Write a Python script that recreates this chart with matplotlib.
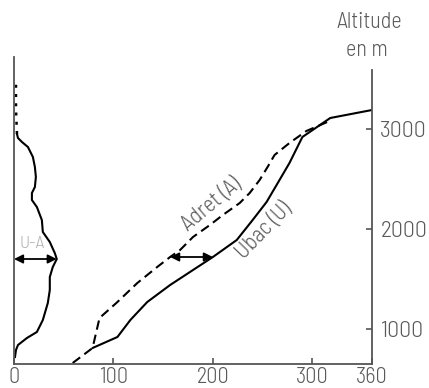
import matplotlib
matplotlib.use("Agg")
import matplotlib.pyplot as plt

plt.rcParams['font.family'] = ['Barlow Semi Condensed', 'DejaVu Sans']
plt.rcParams['font.weight'] = 300

# ---- data ----
ubac_x = [79, 104, 117, 134, 157, 200, 224, 240, 254, 267, 277, 290, 318, 360]
ubac_y = [810, 920, 1090, 1270, 1440, 1720, 1890, 2090, 2270, 2490, 2660, 2920, 3110, 3190]

adret_x = [59, 79, 86, 104, 124, 144, 157, 167, 180, 197, 210, 227, 237, 247, 255, 262, 277, 294, 315, 318]
adret_y = [660, 810, 1110, 1270, 1460, 1620, 1720, 1790, 1920, 2040, 2140, 2260, 2360, 2490, 2620, 2740, 2860, 2980, 3070, 3110]

ua_x = [1, 2, 4, 13, 23, 29, 34, 36, 36, 39, 43, 41, 36, 29, 28, 23, 18, 18, 21, 22, 21, 19, 14, 8, 4, 3]
ua_y = [720, 790, 840, 910, 970, 1090, 1260, 1390, 1520, 1620, 1700, 1760, 1870, 1970, 2090, 2220, 2290, 2360, 2420, 2520, 2620, 2720, 2820, 2870, 2910, 2950]
ua_top_x = [3, 2, 2]
ua_top_y = [2950, 3200, 3460]

xticks = [0, 100, 200, 300, 360]
xtick_labels = ['0', '100', '200', '300', '360']
yticks = [1000, 2000, 3000]
ytick_labels = ['1000', '2000', '3000']

gap_alt_left = 1700
gap_alt_right = 1720
gap_left = (0, 43)
gap_right = (157, 200)

# ---- figure ----
fig = plt.figure(figsize=(4.29, 3.88), dpi=100)
ax = fig.add_axes([14/429, 24/388, 358/429, 364/388])
ax.set_xlim(0, 360)
ax.set_ylim(650, 4290)

spine_col = '#555555'
text_col = '#5a5a5a'

ax.plot(ubac_x, ubac_y, color='black', lw=1.5, solid_capstyle='round')
ax.plot(adret_x, adret_y, color='black', lw=1.5, linestyle=(0, (4.5, 2.5)))
ax.plot(ua_x, ua_y, color='black', lw=1.5)
ax.plot(ua_top_x, ua_top_y, color='black', lw=1.8, linestyle=(0, (1.2, 2.5)))

for (x0, x1), yy in [(gap_left, gap_alt_left), (gap_right, gap_alt_right)]:
    ax.annotate('', xy=(x1, yy), xytext=(x0, yy),
                arrowprops=dict(arrowstyle='<|-|>', color='black', lw=1.3,
                                mutation_scale=13, shrinkA=0, shrinkB=0))

ax.text(18, 1850, 'U-A', color='#b0b0b0', fontsize=13, ha='center', va='center')
ax.text(199, 2245, 'Adret (A)', color=text_col, fontsize=16, rotation=40,
        ha='center', va='center')
ax.text(252, 1985, 'Ubac (U)', color=text_col, fontsize=16, rotation=46,
        ha='center', va='center')

fig.text(369/429, 1 - 22/388, 'Altitude', color=text_col, fontsize=16, ha='center', va='center')
fig.text(367/429, 1 - 50/388, 'en m', color=text_col, fontsize=16, ha='center', va='center')

ax.spines['top'].set_visible(False)
for s in ['left', 'right', 'bottom']:
    ax.spines[s].set_color(spine_col)
    ax.spines[s].set_linewidth(1.3)
ax.spines['left'].set_bounds(650, 3720)
ax.spines['right'].set_bounds(650, 3590)

ax.set_xticks(xticks)
ax.set_xticklabels(xtick_labels)
ax.set_yticks(yticks)
ax.set_yticklabels(ytick_labels)
ax.yaxis.tick_right()
ax.tick_params(axis='both', direction='in', length=4, width=1.2, color=spine_col,
               labelcolor=text_col)
ax.tick_params(axis='x', pad=2, labelsize=16)
ax.tick_params(axis='y', pad=6, labelsize=17)

fig.savefig('out.png', dpi=100)
